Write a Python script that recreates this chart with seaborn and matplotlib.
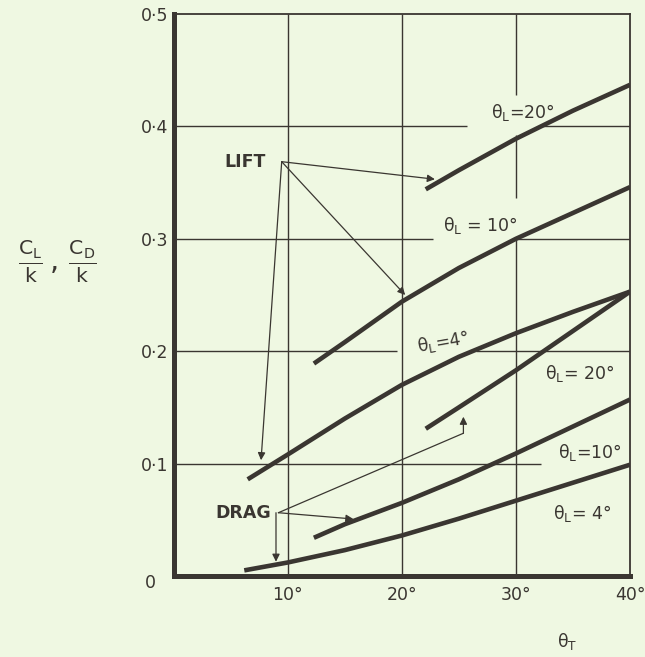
import matplotlib
matplotlib.use("Agg")
import matplotlib.pyplot as plt
import seaborn as sns
import pandas as pd

# ---------------- data ----------------
lift20_x = [22.1, 25, 30, 35, 40]
lift20_y = [0.344, 0.361, 0.389, 0.414, 0.437]

lift10_x = [12.3, 15, 20, 25, 30, 35, 40]
lift10_y = [0.189, 0.208, 0.244, 0.274, 0.300, 0.323, 0.346]

lift4_x = [6.5, 10, 15, 20, 25, 30, 35, 40]
lift4_y = [0.086, 0.108, 0.140, 0.170, 0.195, 0.216, 0.235, 0.253]

drag20_x = [22.1, 25, 30, 35, 40]
drag20_y = [0.131, 0.150, 0.183, 0.218, 0.253]

drag10_x = [12.3, 15, 20, 25, 30, 35, 40]
drag10_y = [0.034, 0.046, 0.065, 0.086, 0.109, 0.133, 0.157]

drag4_x = [6.2, 10, 15, 20, 25, 30, 35, 40]
drag4_y = [0.005, 0.012, 0.023, 0.036, 0.051, 0.067, 0.083, 0.099]

x_ticks = [10, 20, 30, 40]
x_tick_labels = ["10°", "20°", "30°", "40°"]
y_ticks = [0.1, 0.2, 0.3, 0.4, 0.5]
y_tick_labels = ["0·1", "0·2", "0·3", "0·4", "0·5"]

curve_labels = [r"$\mathrm{θ_L}$=20°", r"$\mathrm{θ_L}$ = 10°", r"$\mathrm{θ_L}$=4°",
                r"$\mathrm{θ_L}$= 20°", r"$\mathrm{θ_L}$=10°", r"$\mathrm{θ_L}$= 4°"]

# ---------------- style ----------------
BG = "#eff8e2"
INK = "#3a3631"

sns.set_style("white", {"axes.facecolor": BG, "figure.facecolor": BG})
plt.rcParams["font.family"] = ["DejaVu Sans"]
plt.rcParams["mathtext.fontset"] = "dejavusans"

fig = plt.figure(figsize=(6.45, 6.57), dpi=100)
ax = fig.add_axes([0.269, 0.1233, 0.7078, 0.8554])
ax.set_facecolor(BG)

# broken grid lines as in the original drawing
grid_kw = dict(color=INK, lw=1.0, zorder=1)
ax.hlines(0.4, 0, 25.7, **grid_kw); ax.hlines(0.4, 32.3, 40, **grid_kw)
ax.hlines(0.3, 0, 22.7, **grid_kw); ax.hlines(0.3, 30, 40, **grid_kw)
ax.hlines(0.2, 0, 19.6, **grid_kw); ax.hlines(0.2, 26.5, 40, **grid_kw)
ax.hlines(0.1, 0, 32.2, **grid_kw)
ax.vlines(10, 0, 0.5, **grid_kw)
ax.vlines(20, 0, 0.5, **grid_kw)
ax.vlines(30, 0, 0.300, **grid_kw); ax.vlines(30, 0.336, 0.392, **grid_kw); ax.vlines(30, 0.428, 0.5, **grid_kw)

curves = [(lift20_x, lift20_y), (lift10_x, lift10_y), (lift4_x, lift4_y),
          (drag20_x, drag20_y), (drag10_x, drag10_y), (drag4_x, drag4_y)]
for cx, cy in curves:
    sns.lineplot(x=cx, y=cy, ax=ax, color=INK, lw=3.3, sort=False,
                 estimator=None, zorder=3, solid_capstyle="butt",
                 solid_joinstyle="round")

# curve labels
fs = 12.5
lab_pos = [(30.6, 0.412, 0), (26.9, 0.312, 0), (23.6, 0.208, 10),
           (35.6, 0.180, 0), (36.5, 0.110, 0), (35.8, 0.056, 0)]
for (lx, ly, rot), txt in zip(lab_pos, curve_labels):
    ax.text(lx, ly, txt, ha="center", va="center", fontsize=fs, color=INK,
            rotation=rot, zorder=4)

# annotations
arrow_kw = dict(arrowstyle="-|>", color=INK, lw=0.9, mutation_scale=11,
                shrinkA=0, shrinkB=0)
ax.text(6.3, 0.368, "LIFT", ha="center", va="center", fontsize=12.5,
        color=INK, fontweight="bold")
lift_origin = (9.48, 0.3686)
for tip in [(22.9, 0.353), (20.3, 0.250), (7.67, 0.103)]:
    ax.annotate("", xy=tip, xytext=lift_origin, arrowprops=arrow_kw)

ax.text(6.1, 0.0563, "DRAG", ha="center", va="center", fontsize=12.5,
        color=INK, fontweight="bold")
drag_origin = (9.19, 0.0563)
ax.annotate("", xy=(15.76, 0.0507), xytext=drag_origin, arrowprops=arrow_kw)
ax.annotate("", xy=(8.98, 0.0127), xytext=(8.98, 0.0563), arrowprops=arrow_kw)
ax.plot([drag_origin[0], 25.4], [drag_origin[1], 0.127], color=INK, lw=0.9)
ax.annotate("", xy=(25.4, 0.1417), xytext=(25.4, 0.127), arrowprops=arrow_kw)

# axes
ax.set_xlim(0, 40)
ax.set_ylim(0, 0.5)
ax.set_xticks(x_ticks)
ax.set_xticklabels(x_tick_labels)
ax.set_yticks(y_ticks)
ax.set_yticklabels(y_tick_labels)
ax.tick_params(length=0, labelsize=12.5, colors=INK)
ax.tick_params(axis="x", pad=7)
ax.tick_params(axis="y", pad=4)
ax.text(-2.06, -0.006, "0", ha="center", va="center", fontsize=12.5, color=INK,
        transform=ax.transData, clip_on=False)

for side in ["left", "bottom"]:
    ax.spines[side].set_linewidth(3.6)
    ax.spines[side].set_color(INK)
for side in ["top", "right"]:
    ax.spines[side].set_visible(True)
    ax.spines[side].set_linewidth(1.3)
    ax.spines[side].set_color(INK)

ax.set_xlabel("")
ax.set_ylabel("")
fig.text(567 / 645, 1 - 642 / 657, r"$\mathrm{θ_T}$", ha="center", va="center",
         fontsize=12.5, color=INK)
fig.text(57 / 645, 1 - 262 / 657,
         r"$\frac{\mathrm{C_L}}{\mathrm{k}}\,,\,\frac{\mathrm{C_D}}{\mathrm{k}}$",
         ha="center", va="center", fontsize=21, color=INK)

fig.savefig("out.png", dpi=100, facecolor=BG)
